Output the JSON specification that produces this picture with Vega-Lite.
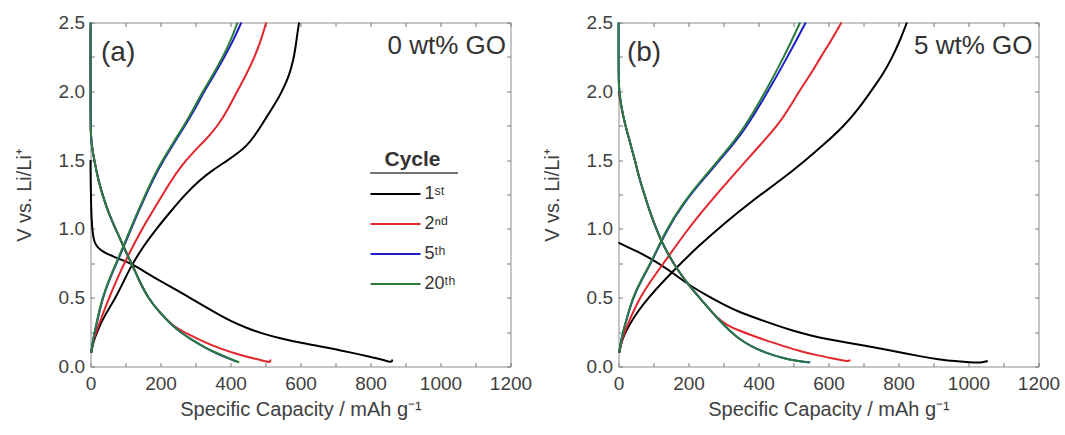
{
  "$schema": "https://vega.github.io/schema/vega-lite/v6.json",
  "padding": {"left": 13.5, "top": 12.5, "right": 0, "bottom": 0},
  "spacing": 9,
  "config": {
    "font": "Liberation Sans",
    "view": {"stroke": "#8c8c8c", "strokeWidth": 1},
    "axis": {
      "grid": false, "domain": false, "tickColor": "#7a7a7a", "tickWidth": 1,
      "labelColor": "#404040", "titleColor": "#404040",
      "labelFontSize": 19, "titleFontSize": 20, "titleFontWeight": "normal",
      "tickSize": 4, "offset": -4, "labelFlush": false, "labelOverlap": false
    }
  },
  "datasets": {
    "curves": [
      {"p":"a","cycle":"1ˢᵗ","s":"d","x":0,"y":1.5},{"p":"a","cycle":"1ˢᵗ","s":"d","x":0.5,"y":1.35},{"p":"a","cycle":"1ˢᵗ","s":"d","x":1.5,"y":1.2},{"p":"a","cycle":"1ˢᵗ","s":"d","x":3,"y":1.07},{"p":"a","cycle":"1ˢᵗ","s":"d","x":6,"y":0.97},{"p":"a","cycle":"1ˢᵗ","s":"d","x":11,"y":0.9},{"p":"a","cycle":"1ˢᵗ","s":"d","x":20,"y":0.87},{"p":"a","cycle":"1ˢᵗ","s":"d","x":27,"y":0.85},{"p":"a","cycle":"1ˢᵗ","s":"d","x":45,"y":0.82},{"p":"a","cycle":"1ˢᵗ","s":"d","x":65,"y":0.8},{"p":"a","cycle":"1ˢᵗ","s":"d","x":90,"y":0.775},{"p":"a","cycle":"1ˢᵗ","s":"d","x":113,"y":0.75},{"p":"a","cycle":"1ˢᵗ","s":"d","x":135,"y":0.72},{"p":"a","cycle":"1ˢᵗ","s":"d","x":160,"y":0.68},{"p":"a","cycle":"1ˢᵗ","s":"d","x":200,"y":0.62},{"p":"a","cycle":"1ˢᵗ","s":"d","x":250,"y":0.55},{"p":"a","cycle":"1ˢᵗ","s":"d","x":300,"y":0.475},{"p":"a","cycle":"1ˢᵗ","s":"d","x":351,"y":0.4},{"p":"a","cycle":"1ˢᵗ","s":"d","x":400,"y":0.33},{"p":"a","cycle":"1ˢᵗ","s":"d","x":446,"y":0.28},{"p":"a","cycle":"1ˢᵗ","s":"d","x":490,"y":0.24},{"p":"a","cycle":"1ˢᵗ","s":"d","x":541,"y":0.205},{"p":"a","cycle":"1ˢᵗ","s":"d","x":600,"y":0.172},{"p":"a","cycle":"1ˢᵗ","s":"d","x":650,"y":0.15},{"p":"a","cycle":"1ˢᵗ","s":"d","x":700,"y":0.125},{"p":"a","cycle":"1ˢᵗ","s":"d","x":747,"y":0.1},{"p":"a","cycle":"1ˢᵗ","s":"d","x":800,"y":0.07},{"p":"a","cycle":"1ˢᵗ","s":"d","x":840,"y":0.045},{"p":"a","cycle":"1ˢᵗ","s":"d","x":858,"y":0.03},{"p":"a","cycle":"1ˢᵗ","s":"d","x":862,"y":0.04},{"p":"a","cycle":"1ˢᵗ","s":"d","x":862,"y":0.05},
      {"p":"a","cycle":"1ˢᵗ","s":"c","x":2,"y":0.1},{"p":"a","cycle":"1ˢᵗ","s":"c","x":8,"y":0.18},{"p":"a","cycle":"1ˢᵗ","s":"c","x":20,"y":0.26},{"p":"a","cycle":"1ˢᵗ","s":"c","x":40,"y":0.37},{"p":"a","cycle":"1ˢᵗ","s":"c","x":72,"y":0.5},{"p":"a","cycle":"1ˢᵗ","s":"c","x":95,"y":0.62},{"p":"a","cycle":"1ˢᵗ","s":"c","x":116,"y":0.73},{"p":"a","cycle":"1ˢᵗ","s":"c","x":150,"y":0.87},{"p":"a","cycle":"1ˢᵗ","s":"c","x":188,"y":1.0},{"p":"a","cycle":"1ˢᵗ","s":"c","x":230,"y":1.13},{"p":"a","cycle":"1ˢᵗ","s":"c","x":270,"y":1.25},{"p":"a","cycle":"1ˢᵗ","s":"c","x":312,"y":1.355},{"p":"a","cycle":"1ˢᵗ","s":"c","x":350,"y":1.43},{"p":"a","cycle":"1ˢᵗ","s":"c","x":393,"y":1.5},{"p":"a","cycle":"1ˢᵗ","s":"c","x":420,"y":1.55},{"p":"a","cycle":"1ˢᵗ","s":"c","x":445,"y":1.6},{"p":"a","cycle":"1ˢᵗ","s":"c","x":467,"y":1.67},{"p":"a","cycle":"1ˢᵗ","s":"c","x":488,"y":1.75},{"p":"a","cycle":"1ˢᵗ","s":"c","x":512,"y":1.85},{"p":"a","cycle":"1ˢᵗ","s":"c","x":535,"y":1.94},{"p":"a","cycle":"1ˢᵗ","s":"c","x":553,"y":2.03},{"p":"a","cycle":"1ˢᵗ","s":"c","x":568,"y":2.12},{"p":"a","cycle":"1ˢᵗ","s":"c","x":579,"y":2.22},{"p":"a","cycle":"1ˢᵗ","s":"c","x":586,"y":2.32},{"p":"a","cycle":"1ˢᵗ","s":"c","x":591,"y":2.42},{"p":"a","cycle":"1ˢᵗ","s":"c","x":596,"y":2.5},
      {"p":"a","cycle":"2ⁿᵈ","s":"c","x":2,"y":0.1},{"p":"a","cycle":"2ⁿᵈ","s":"c","x":8,"y":0.19},{"p":"a","cycle":"2ⁿᵈ","s":"c","x":20,"y":0.28},{"p":"a","cycle":"2ⁿᵈ","s":"c","x":53,"y":0.5},{"p":"a","cycle":"2ⁿᵈ","s":"c","x":80,"y":0.66},{"p":"a","cycle":"2ⁿᵈ","s":"c","x":106,"y":0.8},{"p":"a","cycle":"2ⁿᵈ","s":"c","x":147,"y":1.0},{"p":"a","cycle":"2ⁿᵈ","s":"c","x":183,"y":1.15},{"p":"a","cycle":"2ⁿᵈ","s":"c","x":226,"y":1.335},{"p":"a","cycle":"2ⁿᵈ","s":"c","x":260,"y":1.46},{"p":"a","cycle":"2ⁿᵈ","s":"c","x":294,"y":1.56},{"p":"a","cycle":"2ⁿᵈ","s":"c","x":330,"y":1.65},{"p":"a","cycle":"2ⁿᵈ","s":"c","x":364,"y":1.75},{"p":"a","cycle":"2ⁿᵈ","s":"c","x":393,"y":1.87},{"p":"a","cycle":"2ⁿᵈ","s":"c","x":419,"y":2.0},{"p":"a","cycle":"2ⁿᵈ","s":"c","x":445,"y":2.12},{"p":"a","cycle":"2ⁿᵈ","s":"c","x":469,"y":2.25},{"p":"a","cycle":"2ⁿᵈ","s":"c","x":487,"y":2.37},{"p":"a","cycle":"2ⁿᵈ","s":"c","x":502,"y":2.5},
      {"p":"a","cycle":"2ⁿᵈ","s":"d","x":0,"y":2.45},{"p":"a","cycle":"2ⁿᵈ","s":"d","x":0,"y":1.8},{"p":"a","cycle":"2ⁿᵈ","s":"d","x":1,"y":1.68},{"p":"a","cycle":"2ⁿᵈ","s":"d","x":4,"y":1.6},{"p":"a","cycle":"2ⁿᵈ","s":"d","x":8,"y":1.54},{"p":"a","cycle":"2ⁿᵈ","s":"d","x":14,"y":1.46},{"p":"a","cycle":"2ⁿᵈ","s":"d","x":21,"y":1.37},{"p":"a","cycle":"2ⁿᵈ","s":"d","x":35,"y":1.24},{"p":"a","cycle":"2ⁿᵈ","s":"d","x":50,"y":1.13},{"p":"a","cycle":"2ⁿᵈ","s":"d","x":63,"y":1.05},{"p":"a","cycle":"2ⁿᵈ","s":"d","x":77,"y":0.97},{"p":"a","cycle":"2ⁿᵈ","s":"d","x":100,"y":0.84},{"p":"a","cycle":"2ⁿᵈ","s":"d","x":117,"y":0.75},{"p":"a","cycle":"2ⁿᵈ","s":"d","x":140,"y":0.62},{"p":"a","cycle":"2ⁿᵈ","s":"d","x":164,"y":0.5},{"p":"a","cycle":"2ⁿᵈ","s":"d","x":195,"y":0.4},{"p":"a","cycle":"2ⁿᵈ","s":"d","x":232,"y":0.3},{"p":"a","cycle":"2ⁿᵈ","s":"d","x":278,"y":0.235},{"p":"a","cycle":"2ⁿᵈ","s":"d","x":323,"y":0.18},{"p":"a","cycle":"2ⁿᵈ","s":"d","x":370,"y":0.13},{"p":"a","cycle":"2ⁿᵈ","s":"d","x":419,"y":0.09},{"p":"a","cycle":"2ⁿᵈ","s":"d","x":470,"y":0.055},{"p":"a","cycle":"2ⁿᵈ","s":"d","x":505,"y":0.035},{"p":"a","cycle":"2ⁿᵈ","s":"d","x":512,"y":0.03},{"p":"a","cycle":"2ⁿᵈ","s":"d","x":514,"y":0.04},{"p":"a","cycle":"2ⁿᵈ","s":"d","x":514,"y":0.05},
      {"p":"a","cycle":"5ᵗʰ","s":"c","x":2,"y":0.1},{"p":"a","cycle":"5ᵗʰ","s":"c","x":7,"y":0.19},{"p":"a","cycle":"5ᵗʰ","s":"c","x":15,"y":0.28},{"p":"a","cycle":"5ᵗʰ","s":"c","x":34,"y":0.5},{"p":"a","cycle":"5ᵗʰ","s":"c","x":60,"y":0.67},{"p":"a","cycle":"5ᵗʰ","s":"c","x":92,"y":0.85},{"p":"a","cycle":"5ᵗʰ","s":"c","x":116,"y":1.0},{"p":"a","cycle":"5ᵗʰ","s":"c","x":136,"y":1.12},{"p":"a","cycle":"5ᵗʰ","s":"c","x":159,"y":1.25},{"p":"a","cycle":"5ᵗʰ","s":"c","x":183,"y":1.38},{"p":"a","cycle":"5ᵗʰ","s":"c","x":209,"y":1.5},{"p":"a","cycle":"5ᵗʰ","s":"c","x":240,"y":1.63},{"p":"a","cycle":"5ᵗʰ","s":"c","x":270,"y":1.75},{"p":"a","cycle":"5ᵗʰ","s":"c","x":298,"y":1.87},{"p":"a","cycle":"5ᵗʰ","s":"c","x":325,"y":2.0},{"p":"a","cycle":"5ᵗʰ","s":"c","x":354,"y":2.12},{"p":"a","cycle":"5ᵗʰ","s":"c","x":383,"y":2.25},{"p":"a","cycle":"5ᵗʰ","s":"c","x":408,"y":2.37},{"p":"a","cycle":"5ᵗʰ","s":"c","x":431,"y":2.5},
      {"p":"a","cycle":"5ᵗʰ","s":"d","x":0,"y":2.5},{"p":"a","cycle":"5ᵗʰ","s":"d","x":0,"y":1.8},{"p":"a","cycle":"5ᵗʰ","s":"d","x":1,"y":1.68},{"p":"a","cycle":"5ᵗʰ","s":"d","x":4,"y":1.6},{"p":"a","cycle":"5ᵗʰ","s":"d","x":8,"y":1.54},{"p":"a","cycle":"5ᵗʰ","s":"d","x":14,"y":1.46},{"p":"a","cycle":"5ᵗʰ","s":"d","x":21,"y":1.37},{"p":"a","cycle":"5ᵗʰ","s":"d","x":35,"y":1.24},{"p":"a","cycle":"5ᵗʰ","s":"d","x":50,"y":1.13},{"p":"a","cycle":"5ᵗʰ","s":"d","x":63,"y":1.05},{"p":"a","cycle":"5ᵗʰ","s":"d","x":77,"y":0.97},{"p":"a","cycle":"5ᵗʰ","s":"d","x":100,"y":0.84},{"p":"a","cycle":"5ᵗʰ","s":"d","x":117,"y":0.75},{"p":"a","cycle":"5ᵗʰ","s":"d","x":140,"y":0.62},{"p":"a","cycle":"5ᵗʰ","s":"d","x":164,"y":0.5},{"p":"a","cycle":"5ᵗʰ","s":"d","x":195,"y":0.4},{"p":"a","cycle":"5ᵗʰ","s":"d","x":232,"y":0.3},{"p":"a","cycle":"5ᵗʰ","s":"d","x":262,"y":0.24},{"p":"a","cycle":"5ᵗʰ","s":"d","x":292,"y":0.19},{"p":"a","cycle":"5ᵗʰ","s":"d","x":326,"y":0.14},{"p":"a","cycle":"5ᵗʰ","s":"d","x":356,"y":0.1},{"p":"a","cycle":"5ᵗʰ","s":"d","x":392,"y":0.06},{"p":"a","cycle":"5ᵗʰ","s":"d","x":418,"y":0.035},
      {"p":"a","cycle":"20ᵗʰ","s":"c","x":2,"y":0.1},{"p":"a","cycle":"20ᵗʰ","s":"c","x":7,"y":0.19},{"p":"a","cycle":"20ᵗʰ","s":"c","x":14,"y":0.28},{"p":"a","cycle":"20ᵗʰ","s":"c","x":33,"y":0.5},{"p":"a","cycle":"20ᵗʰ","s":"c","x":59,"y":0.67},{"p":"a","cycle":"20ᵗʰ","s":"c","x":90,"y":0.85},{"p":"a","cycle":"20ᵗʰ","s":"c","x":114,"y":1.0},{"p":"a","cycle":"20ᵗʰ","s":"c","x":134,"y":1.12},{"p":"a","cycle":"20ᵗʰ","s":"c","x":157,"y":1.25},{"p":"a","cycle":"20ᵗʰ","s":"c","x":180,"y":1.38},{"p":"a","cycle":"20ᵗʰ","s":"c","x":206,"y":1.5},{"p":"a","cycle":"20ᵗʰ","s":"c","x":237,"y":1.63},{"p":"a","cycle":"20ᵗʰ","s":"c","x":267,"y":1.75},{"p":"a","cycle":"20ᵗʰ","s":"c","x":294,"y":1.87},{"p":"a","cycle":"20ᵗʰ","s":"c","x":321,"y":2.0},{"p":"a","cycle":"20ᵗʰ","s":"c","x":350,"y":2.12},{"p":"a","cycle":"20ᵗʰ","s":"c","x":378,"y":2.25},{"p":"a","cycle":"20ᵗʰ","s":"c","x":401,"y":2.37},{"p":"a","cycle":"20ᵗʰ","s":"c","x":420,"y":2.5},
      {"p":"a","cycle":"20ᵗʰ","s":"d","x":0,"y":2.5},{"p":"a","cycle":"20ᵗʰ","s":"d","x":0,"y":1.8},{"p":"a","cycle":"20ᵗʰ","s":"d","x":1,"y":1.68},{"p":"a","cycle":"20ᵗʰ","s":"d","x":4,"y":1.6},{"p":"a","cycle":"20ᵗʰ","s":"d","x":8,"y":1.54},{"p":"a","cycle":"20ᵗʰ","s":"d","x":14,"y":1.46},{"p":"a","cycle":"20ᵗʰ","s":"d","x":21,"y":1.37},{"p":"a","cycle":"20ᵗʰ","s":"d","x":35,"y":1.24},{"p":"a","cycle":"20ᵗʰ","s":"d","x":50,"y":1.13},{"p":"a","cycle":"20ᵗʰ","s":"d","x":63,"y":1.05},{"p":"a","cycle":"20ᵗʰ","s":"d","x":77,"y":0.97},{"p":"a","cycle":"20ᵗʰ","s":"d","x":100,"y":0.84},{"p":"a","cycle":"20ᵗʰ","s":"d","x":117,"y":0.75},{"p":"a","cycle":"20ᵗʰ","s":"d","x":140,"y":0.62},{"p":"a","cycle":"20ᵗʰ","s":"d","x":164,"y":0.5},{"p":"a","cycle":"20ᵗʰ","s":"d","x":195,"y":0.4},{"p":"a","cycle":"20ᵗʰ","s":"d","x":232,"y":0.3},{"p":"a","cycle":"20ᵗʰ","s":"d","x":262,"y":0.24},{"p":"a","cycle":"20ᵗʰ","s":"d","x":292,"y":0.19},{"p":"a","cycle":"20ᵗʰ","s":"d","x":326,"y":0.14},{"p":"a","cycle":"20ᵗʰ","s":"d","x":358,"y":0.1},{"p":"a","cycle":"20ᵗʰ","s":"d","x":395,"y":0.06},{"p":"a","cycle":"20ᵗʰ","s":"d","x":420,"y":0.035},{"p":"a","cycle":"20ᵗʰ","s":"d","x":425,"y":0.03},

      {"p":"b","cycle":"1ˢᵗ","s":"d","x":0,"y":0.9},{"p":"b","cycle":"1ˢᵗ","s":"d","x":25,"y":0.87},{"p":"b","cycle":"1ˢᵗ","s":"d","x":50,"y":0.84},{"p":"b","cycle":"1ˢᵗ","s":"d","x":100,"y":0.775},{"p":"b","cycle":"1ˢᵗ","s":"d","x":150,"y":0.69},{"p":"b","cycle":"1ˢᵗ","s":"d","x":200,"y":0.594},{"p":"b","cycle":"1ˢᵗ","s":"d","x":250,"y":0.52},{"p":"b","cycle":"1ˢᵗ","s":"d","x":300,"y":0.45},{"p":"b","cycle":"1ˢᵗ","s":"d","x":350,"y":0.39},{"p":"b","cycle":"1ˢᵗ","s":"d","x":400,"y":0.345},{"p":"b","cycle":"1ˢᵗ","s":"d","x":450,"y":0.3},{"p":"b","cycle":"1ˢᵗ","s":"d","x":500,"y":0.258},{"p":"b","cycle":"1ˢᵗ","s":"d","x":550,"y":0.225},{"p":"b","cycle":"1ˢᵗ","s":"d","x":600,"y":0.198},{"p":"b","cycle":"1ˢᵗ","s":"d","x":650,"y":0.175},{"p":"b","cycle":"1ˢᵗ","s":"d","x":705,"y":0.152},{"p":"b","cycle":"1ˢᵗ","s":"d","x":760,"y":0.125},{"p":"b","cycle":"1ˢᵗ","s":"d","x":810,"y":0.1},{"p":"b","cycle":"1ˢᵗ","s":"d","x":860,"y":0.075},{"p":"b","cycle":"1ˢᵗ","s":"d","x":913,"y":0.052},{"p":"b","cycle":"1ˢᵗ","s":"d","x":970,"y":0.036},{"p":"b","cycle":"1ˢᵗ","s":"d","x":1020,"y":0.028},{"p":"b","cycle":"1ˢᵗ","s":"d","x":1040,"y":0.03},{"p":"b","cycle":"1ˢᵗ","s":"d","x":1055,"y":0.04},
      {"p":"b","cycle":"1ˢᵗ","s":"c","x":2,"y":0.1},{"p":"b","cycle":"1ˢᵗ","s":"c","x":10,"y":0.2},{"p":"b","cycle":"1ˢᵗ","s":"c","x":30,"y":0.3},{"p":"b","cycle":"1ˢᵗ","s":"c","x":55,"y":0.4},{"p":"b","cycle":"1ˢᵗ","s":"c","x":85,"y":0.5},{"p":"b","cycle":"1ˢᵗ","s":"c","x":150,"y":0.68},{"p":"b","cycle":"1ˢᵗ","s":"c","x":230,"y":0.88},{"p":"b","cycle":"1ˢᵗ","s":"c","x":302,"y":1.04},{"p":"b","cycle":"1ˢᵗ","s":"c","x":380,"y":1.2},{"p":"b","cycle":"1ˢᵗ","s":"c","x":464,"y":1.355},{"p":"b","cycle":"1ˢᵗ","s":"c","x":535,"y":1.5},{"p":"b","cycle":"1ˢᵗ","s":"c","x":590,"y":1.62},{"p":"b","cycle":"1ˢᵗ","s":"c","x":645,"y":1.75},{"p":"b","cycle":"1ˢᵗ","s":"c","x":688,"y":1.88},{"p":"b","cycle":"1ˢᵗ","s":"c","x":721,"y":2.0},{"p":"b","cycle":"1ˢᵗ","s":"c","x":755,"y":2.12},{"p":"b","cycle":"1ˢᵗ","s":"c","x":783,"y":2.25},{"p":"b","cycle":"1ˢᵗ","s":"c","x":806,"y":2.38},{"p":"b","cycle":"1ˢᵗ","s":"c","x":824,"y":2.5},
      {"p":"b","cycle":"2ⁿᵈ","s":"c","x":2,"y":0.1},{"p":"b","cycle":"2ⁿᵈ","s":"c","x":10,"y":0.2},{"p":"b","cycle":"2ⁿᵈ","s":"c","x":25,"y":0.3},{"p":"b","cycle":"2ⁿᵈ","s":"c","x":60,"y":0.5},{"p":"b","cycle":"2ⁿᵈ","s":"c","x":100,"y":0.65},{"p":"b","cycle":"2ⁿᵈ","s":"c","x":140,"y":0.79},{"p":"b","cycle":"2ⁿᵈ","s":"c","x":190,"y":0.97},{"p":"b","cycle":"2ⁿᵈ","s":"c","x":240,"y":1.13},{"p":"b","cycle":"2ⁿᵈ","s":"c","x":283,"y":1.26},{"p":"b","cycle":"2ⁿᵈ","s":"c","x":318,"y":1.36},{"p":"b","cycle":"2ⁿᵈ","s":"c","x":359,"y":1.48},{"p":"b","cycle":"2ⁿᵈ","s":"c","x":405,"y":1.61},{"p":"b","cycle":"2ⁿᵈ","s":"c","x":454,"y":1.75},{"p":"b","cycle":"2ⁿᵈ","s":"c","x":486,"y":1.87},{"p":"b","cycle":"2ⁿᵈ","s":"c","x":516,"y":2.0},{"p":"b","cycle":"2ⁿᵈ","s":"c","x":548,"y":2.12},{"p":"b","cycle":"2ⁿᵈ","s":"c","x":578,"y":2.25},{"p":"b","cycle":"2ⁿᵈ","s":"c","x":608,"y":2.37},{"p":"b","cycle":"2ⁿᵈ","s":"c","x":637,"y":2.5},
      {"p":"b","cycle":"2ⁿᵈ","s":"d","x":0,"y":2.0},{"p":"b","cycle":"2ⁿᵈ","s":"d","x":2,"y":1.97},{"p":"b","cycle":"2ⁿᵈ","s":"d","x":7,"y":1.9},{"p":"b","cycle":"2ⁿᵈ","s":"d","x":15,"y":1.8},{"p":"b","cycle":"2ⁿᵈ","s":"d","x":25,"y":1.7},{"p":"b","cycle":"2ⁿᵈ","s":"d","x":36,"y":1.6},{"p":"b","cycle":"2ⁿᵈ","s":"d","x":47,"y":1.5},{"p":"b","cycle":"2ⁿᵈ","s":"d","x":59,"y":1.37},{"p":"b","cycle":"2ⁿᵈ","s":"d","x":73,"y":1.26},{"p":"b","cycle":"2ⁿᵈ","s":"d","x":90,"y":1.12},{"p":"b","cycle":"2ⁿᵈ","s":"d","x":108,"y":1.0},{"p":"b","cycle":"2ⁿᵈ","s":"d","x":121,"y":0.92},{"p":"b","cycle":"2ⁿᵈ","s":"d","x":145,"y":0.8},{"p":"b","cycle":"2ⁿᵈ","s":"d","x":170,"y":0.7},{"p":"b","cycle":"2ⁿᵈ","s":"d","x":195,"y":0.61},{"p":"b","cycle":"2ⁿᵈ","s":"d","x":216,"y":0.546},{"p":"b","cycle":"2ⁿᵈ","s":"d","x":238,"y":0.48},{"p":"b","cycle":"2ⁿᵈ","s":"d","x":262,"y":0.41},{"p":"b","cycle":"2ⁿᵈ","s":"d","x":283,"y":0.35},{"p":"b","cycle":"2ⁿᵈ","s":"d","x":310,"y":0.3},{"p":"b","cycle":"2ⁿᵈ","s":"d","x":340,"y":0.265},{"p":"b","cycle":"2ⁿᵈ","s":"d","x":378,"y":0.23},{"p":"b","cycle":"2ⁿᵈ","s":"d","x":420,"y":0.19},{"p":"b","cycle":"2ⁿᵈ","s":"d","x":473,"y":0.147},{"p":"b","cycle":"2ⁿᵈ","s":"d","x":520,"y":0.11},{"p":"b","cycle":"2ⁿᵈ","s":"d","x":570,"y":0.08},{"p":"b","cycle":"2ⁿᵈ","s":"d","x":620,"y":0.055},{"p":"b","cycle":"2ⁿᵈ","s":"d","x":659,"y":0.035},{"p":"b","cycle":"2ⁿᵈ","s":"d","x":662,"y":0.05},
      {"p":"b","cycle":"5ᵗʰ","s":"c","x":2,"y":0.1},{"p":"b","cycle":"5ᵗʰ","s":"c","x":8,"y":0.2},{"p":"b","cycle":"5ᵗʰ","s":"c","x":18,"y":0.3},{"p":"b","cycle":"5ᵗʰ","s":"c","x":41,"y":0.5},{"p":"b","cycle":"5ᵗʰ","s":"c","x":66,"y":0.63},{"p":"b","cycle":"5ᵗʰ","s":"c","x":93,"y":0.75},{"p":"b","cycle":"5ᵗʰ","s":"c","x":137,"y":0.99},{"p":"b","cycle":"5ᵗʰ","s":"c","x":187,"y":1.19},{"p":"b","cycle":"5ᵗʰ","s":"c","x":238,"y":1.35},{"p":"b","cycle":"5ᵗʰ","s":"c","x":307,"y":1.55},{"p":"b","cycle":"5ᵗʰ","s":"c","x":364,"y":1.73},{"p":"b","cycle":"5ᵗʰ","s":"c","x":423,"y":1.98},{"p":"b","cycle":"5ᵗʰ","s":"c","x":483,"y":2.25},{"p":"b","cycle":"5ᵗʰ","s":"c","x":535,"y":2.5},
      {"p":"b","cycle":"5ᵗʰ","s":"d","x":0,"y":2.5},{"p":"b","cycle":"5ᵗʰ","s":"d","x":0,"y":2.15},{"p":"b","cycle":"5ᵗʰ","s":"d","x":1,"y":2.03},{"p":"b","cycle":"5ᵗʰ","s":"d","x":6,"y":1.92},{"p":"b","cycle":"5ᵗʰ","s":"d","x":15,"y":1.8},{"p":"b","cycle":"5ᵗʰ","s":"d","x":25,"y":1.7},{"p":"b","cycle":"5ᵗʰ","s":"d","x":36,"y":1.6},{"p":"b","cycle":"5ᵗʰ","s":"d","x":47,"y":1.5},{"p":"b","cycle":"5ᵗʰ","s":"d","x":59,"y":1.37},{"p":"b","cycle":"5ᵗʰ","s":"d","x":73,"y":1.26},{"p":"b","cycle":"5ᵗʰ","s":"d","x":90,"y":1.12},{"p":"b","cycle":"5ᵗʰ","s":"d","x":108,"y":1.0},{"p":"b","cycle":"5ᵗʰ","s":"d","x":121,"y":0.92},{"p":"b","cycle":"5ᵗʰ","s":"d","x":145,"y":0.8},{"p":"b","cycle":"5ᵗʰ","s":"d","x":170,"y":0.7},{"p":"b","cycle":"5ᵗʰ","s":"d","x":195,"y":0.61},{"p":"b","cycle":"5ᵗʰ","s":"d","x":216,"y":0.546},{"p":"b","cycle":"5ᵗʰ","s":"d","x":238,"y":0.48},{"p":"b","cycle":"5ᵗʰ","s":"d","x":262,"y":0.41},{"p":"b","cycle":"5ᵗʰ","s":"d","x":283,"y":0.35},{"p":"b","cycle":"5ᵗʰ","s":"d","x":300,"y":0.305},{"p":"b","cycle":"5ᵗʰ","s":"d","x":322,"y":0.25},{"p":"b","cycle":"5ᵗʰ","s":"d","x":345,"y":0.2},{"p":"b","cycle":"5ᵗʰ","s":"d","x":378,"y":0.147},{"p":"b","cycle":"5ᵗʰ","s":"d","x":420,"y":0.1},{"p":"b","cycle":"5ᵗʰ","s":"d","x":470,"y":0.06},{"p":"b","cycle":"5ᵗʰ","s":"d","x":510,"y":0.04},{"p":"b","cycle":"5ᵗʰ","s":"d","x":548,"y":0.03},
      {"p":"b","cycle":"20ᵗʰ","s":"c","x":2,"y":0.1},{"p":"b","cycle":"20ᵗʰ","s":"c","x":8,"y":0.2},{"p":"b","cycle":"20ᵗʰ","s":"c","x":18,"y":0.3},{"p":"b","cycle":"20ᵗʰ","s":"c","x":40,"y":0.5},{"p":"b","cycle":"20ᵗʰ","s":"c","x":65,"y":0.63},{"p":"b","cycle":"20ᵗʰ","s":"c","x":92,"y":0.75},{"p":"b","cycle":"20ᵗʰ","s":"c","x":135,"y":0.99},{"p":"b","cycle":"20ᵗʰ","s":"c","x":185,"y":1.19},{"p":"b","cycle":"20ᵗʰ","s":"c","x":235,"y":1.35},{"p":"b","cycle":"20ᵗʰ","s":"c","x":303,"y":1.55},{"p":"b","cycle":"20ᵗʰ","s":"c","x":359,"y":1.73},{"p":"b","cycle":"20ᵗʰ","s":"c","x":416,"y":1.98},{"p":"b","cycle":"20ᵗʰ","s":"c","x":473,"y":2.25},{"p":"b","cycle":"20ᵗʰ","s":"c","x":519,"y":2.5},
      {"p":"b","cycle":"20ᵗʰ","s":"d","x":0,"y":2.5},{"p":"b","cycle":"20ᵗʰ","s":"d","x":0,"y":2.15},{"p":"b","cycle":"20ᵗʰ","s":"d","x":1,"y":2.03},{"p":"b","cycle":"20ᵗʰ","s":"d","x":6,"y":1.92},{"p":"b","cycle":"20ᵗʰ","s":"d","x":15,"y":1.8},{"p":"b","cycle":"20ᵗʰ","s":"d","x":25,"y":1.7},{"p":"b","cycle":"20ᵗʰ","s":"d","x":36,"y":1.6},{"p":"b","cycle":"20ᵗʰ","s":"d","x":47,"y":1.5},{"p":"b","cycle":"20ᵗʰ","s":"d","x":59,"y":1.37},{"p":"b","cycle":"20ᵗʰ","s":"d","x":73,"y":1.26},{"p":"b","cycle":"20ᵗʰ","s":"d","x":90,"y":1.12},{"p":"b","cycle":"20ᵗʰ","s":"d","x":108,"y":1.0},{"p":"b","cycle":"20ᵗʰ","s":"d","x":121,"y":0.92},{"p":"b","cycle":"20ᵗʰ","s":"d","x":145,"y":0.8},{"p":"b","cycle":"20ᵗʰ","s":"d","x":170,"y":0.7},{"p":"b","cycle":"20ᵗʰ","s":"d","x":195,"y":0.61},{"p":"b","cycle":"20ᵗʰ","s":"d","x":216,"y":0.546},{"p":"b","cycle":"20ᵗʰ","s":"d","x":238,"y":0.48},{"p":"b","cycle":"20ᵗʰ","s":"d","x":262,"y":0.41},{"p":"b","cycle":"20ᵗʰ","s":"d","x":283,"y":0.35},{"p":"b","cycle":"20ᵗʰ","s":"d","x":300,"y":0.305},{"p":"b","cycle":"20ᵗʰ","s":"d","x":322,"y":0.25},{"p":"b","cycle":"20ᵗʰ","s":"d","x":345,"y":0.2},{"p":"b","cycle":"20ᵗʰ","s":"d","x":378,"y":0.147},{"p":"b","cycle":"20ᵗʰ","s":"d","x":420,"y":0.1},{"p":"b","cycle":"20ᵗʰ","s":"d","x":470,"y":0.06},{"p":"b","cycle":"20ᵗʰ","s":"d","x":510,"y":0.04},{"p":"b","cycle":"20ᵗʰ","s":"d","x":545,"y":0.03}
    ]
  },
  "resolve": {"scale": {"color": "independent"}},
  "hconcat": [
    {
      "width": 420, "height": 344,
      "resolve": {"axis": {"x": "independent", "y": "independent"}},
      "layer": [
        {
          "data": {"name": "curves"},
          "transform": [{"filter": "datum.p == 'a'"}],
          "mark": {"type": "line", "strokeWidth": 2, "interpolate": "basis"},
          "encoding": {
            "x": {"field": "x", "type": "quantitative", "scale": {"domain": [0, 1200], "nice": false},
              "axis": {"orient": "bottom", "values": [0,100,200,300,400,500,600,700,800,900,1000,1100,1200], "labelExpr": "datum.value % 200 === 0 ? datum.label : ''", "format": "d", "labelPadding": 8, "title": "Specific Capacity / mAh g⁻¹", "titlePadding": 6}},
            "y": {"field": "y", "type": "quantitative", "scale": {"domain": [0, 2.5], "nice": false},
              "axis": {"orient": "left", "values": [0,0.25,0.5,0.75,1,1.25,1.5,1.75,2,2.25,2.5], "labelExpr": "(datum.value * 2) % 1 === 0 ? format(datum.value, '.1f') : ''", "labelPadding": 6, "title": "V vs. Li/Li⁺", "titlePadding": 24}},
            "color": {"field": "cycle", "type": "nominal",
              "scale": {"domain": ["1ˢᵗ", "2ⁿᵈ", "5ᵗʰ", "20ᵗʰ"], "range": ["#000000", "#e3262b", "#1f1fc8", "#2a7d3c"]},
              "legend": {"orient": "none", "legendX": 279, "legendY": 126.5, "title": "Cycle", "titleFontSize": 21, "titleFontWeight": "bold", "titleColor": "#333333", "titleAnchor": "middle", "titlePadding": 11, "symbolType": "stroke", "symbolSize": 2500, "symbolStrokeWidth": 2, "labelFontSize": 18, "labelColor": "#333333", "labelOffset": 3, "clipHeight": 26, "rowPadding": 4}},
            "detail": {"field": "s"},
            "order": {"value": null}
          }
        },
        {
          "data": {"values": [{}]},
          "mark": {"type": "text", "text": "(a)", "align": "left", "baseline": "middle", "fontSize": 28, "color": "#333333"},
          "encoding": {
            "x": {"datum": 30, "type": "quantitative", "scale": {"domain": [0, 1200], "nice": false}, "axis": {"orient": "top", "labels": false, "title": null, "values": [0,100,200,300,400,500,600,700,800,900,1000,1100,1200]}},
            "y": {"datum": 2.28, "type": "quantitative", "scale": {"domain": [0, 2.5], "nice": false}, "axis": {"orient": "right", "labels": false, "title": null, "values": [0,0.25,0.5,0.75,1,1.25,1.5,1.75,2,2.25,2.5]}}
          }
        },
        {
          "data": {"values": [{}]},
          "mark": {"type": "text", "text": "0 wt% GO", "align": "right", "baseline": "middle", "fontSize": 26, "color": "#333333"},
          "encoding": {"x": {"datum": 1187, "type": "quantitative", "axis": null}, "y": {"datum": 2.33, "type": "quantitative", "axis": null}}
        },
        {
          "data": {"values": [{}]},
          "mark": {"type": "rule", "strokeWidth": 1.5, "color": "#444444"},
          "encoding": {"x": {"datum": 799, "type": "quantitative", "axis": null}, "x2": {"datum": 1050}, "y": {"datum": 1.406, "type": "quantitative", "axis": null}}
        }
      ]
    },
    {
      "width": 420, "height": 344,
      "resolve": {"axis": {"x": "independent", "y": "independent"}},
      "layer": [
        {
          "data": {"name": "curves"},
          "transform": [{"filter": "datum.p == 'b'"}],
          "mark": {"type": "line", "strokeWidth": 2, "interpolate": "basis"},
          "encoding": {
            "x": {"field": "x", "type": "quantitative", "scale": {"domain": [0, 1200], "nice": false},
              "axis": {"orient": "bottom", "values": [0,100,200,300,400,500,600,700,800,900,1000,1100,1200], "labelExpr": "datum.value % 200 === 0 ? datum.label : ''", "format": "d", "labelPadding": 8, "title": "Specific Capacity / mAh g⁻¹", "titlePadding": 6}},
            "y": {"field": "y", "type": "quantitative", "scale": {"domain": [0, 2.5], "nice": false},
              "axis": {"orient": "left", "values": [0,0.25,0.5,0.75,1,1.25,1.5,1.75,2,2.25,2.5], "labelExpr": "(datum.value * 2) % 1 === 0 ? format(datum.value, '.1f') : ''", "labelPadding": 6, "title": "V vs. Li/Li⁺", "titlePadding": 24}},
            "color": {"field": "cycle", "type": "nominal",
              "scale": {"domain": ["1ˢᵗ", "2ⁿᵈ", "5ᵗʰ", "20ᵗʰ"], "range": ["#000000", "#e3262b", "#1f1fc8", "#2a7d3c"]},
              "legend": null},
            "detail": {"field": "s"},
            "order": {"value": null}
          }
        },
        {
          "data": {"values": [{}]},
          "mark": {"type": "text", "text": "(b)", "align": "left", "baseline": "middle", "fontSize": 28, "color": "#333333"},
          "encoding": {
            "x": {"datum": 24, "type": "quantitative", "scale": {"domain": [0, 1200], "nice": false}, "axis": {"orient": "top", "labels": false, "title": null, "values": [0,100,200,300,400,500,600,700,800,900,1000,1100,1200]}},
            "y": {"datum": 2.28, "type": "quantitative", "scale": {"domain": [0, 2.5], "nice": false}, "axis": {"orient": "right", "labels": false, "title": null, "values": [0,0.25,0.5,0.75,1,1.25,1.5,1.75,2,2.25,2.5]}}
          }
        },
        {
          "data": {"values": [{}]},
          "mark": {"type": "text", "text": "5 wt% GO", "align": "right", "baseline": "middle", "fontSize": 26, "color": "#333333"},
          "encoding": {"x": {"datum": 1183, "type": "quantitative", "axis": null}, "y": {"datum": 2.33, "type": "quantitative", "axis": null}}
        }
      ]
    }
  ]
}
